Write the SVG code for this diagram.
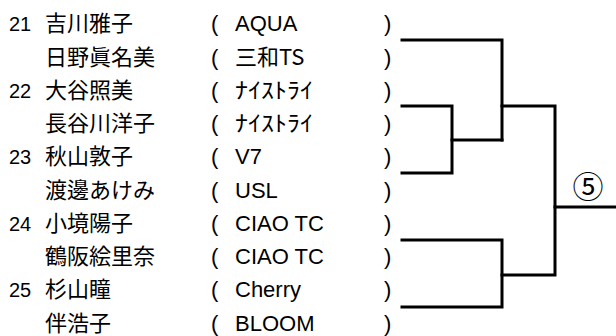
<svg xmlns="http://www.w3.org/2000/svg" width="616" height="336" viewBox="0 0 616 336">
<style>
text{font-family:"Liberation Sans","Noto Sans CJK JP",sans-serif;font-size:22px;fill:#000}
.num{font-size:20px}
.jp{font-family:"Noto Sans CJK JP","Liberation Sans",sans-serif}
.line{stroke:#000;stroke-width:3;fill:none;stroke-linecap:square}
</style>
<rect width="616" height="336" fill="#fff"/>
<g id="players">
<g id="p1"><text class="num" x="9" y="31.4">21</text><text class="jp" x="45" y="31.4">吉川雅子</text><text x="211" y="31.4">(</text><text x="235" y="31.4">AQUA</text><text x="384" y="31.4">)</text></g>
<g id="p2"><text class="jp" x="45" y="64.6">日野眞名美</text><text x="211" y="64.6">(</text><text class="jp" x="235" y="64.6">三和TS</text><text x="384" y="64.6">)</text></g>
<g id="p3"><text class="num" x="9" y="97.9">22</text><text class="jp" x="45" y="97.9">大谷照美</text><text x="211" y="97.9">(</text><text class="jp" x="235" y="97.9" textLength="78" lengthAdjust="spacingAndGlyphs">ﾅｲｽﾄﾗｲ</text><text x="384" y="97.9">)</text></g>
<g id="p4"><text class="jp" x="45" y="131.1">長谷川洋子</text><text x="211" y="131.1">(</text><text class="jp" x="235" y="131.1" textLength="78" lengthAdjust="spacingAndGlyphs">ﾅｲｽﾄﾗｲ</text><text x="384" y="131.1">)</text></g>
<g id="p5"><text class="num" x="9" y="164.4">23</text><text class="jp" x="45" y="164.4">秋山敦子</text><text x="211" y="164.4">(</text><text x="235" y="164.4">V7</text><text x="384" y="164.4">)</text></g>
<g id="p6"><text class="jp" x="45" y="197.6">渡邊あけみ</text><text x="211" y="197.6">(</text><text x="235" y="197.6">USL</text><text x="384" y="197.6">)</text></g>
<g id="p7"><text class="num" x="9" y="230.9">24</text><text class="jp" x="45" y="230.9">小境陽子</text><text x="211" y="230.9">(</text><text x="235" y="230.9">CIAO TC</text><text x="384" y="230.9">)</text></g>
<g id="p8"><text class="jp" x="45" y="264.1">鶴阪絵里奈</text><text x="211" y="264.1">(</text><text x="235" y="264.1">CIAO TC</text><text x="384" y="264.1">)</text></g>
<g id="p9"><text class="num" x="9" y="297.4">25</text><text class="jp" x="45" y="297.4">杉山瞳</text><text x="211" y="297.4">(</text><text x="235" y="297.4">Cherry</text><text x="384" y="297.4">)</text></g>
<g id="p10"><text class="jp" x="45" y="330.6">伴浩子</text><text x="211" y="330.6">(</text><text x="235" y="330.6">BLOOM</text><text x="384" y="330.6">)</text></g>
</g>
<g id="connectors">
<path class="line" d="M402 40H502V140"/>
<path class="line" d="M402 106H452V173H402"/>
<path class="line" d="M452 140H502"/>
<path class="line" d="M502 106H555V275H502"/>
<path class="line" d="M402 240H502V307H402"/>
<path class="line" d="M555 207H616"/>
</g>
<g id="label"><text class="jp" x="588" y="198" text-anchor="middle" style="font-size:31px">⑤</text></g>
</svg>
